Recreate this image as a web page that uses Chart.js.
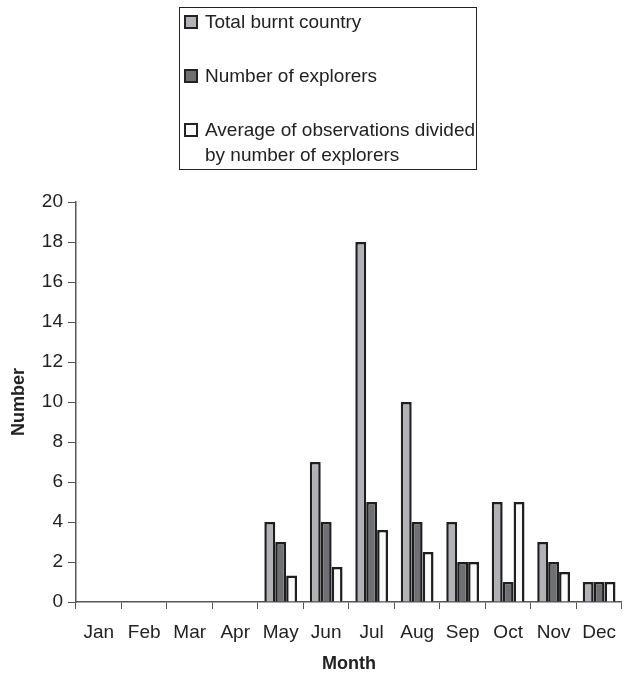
<!DOCTYPE html>
<html>
<head>
<meta charset="utf-8">
<script src="https://cdn.jsdelivr.net/npm/chart.js@4/dist/chart.umd.min.js"></script>
<style>
  html, body { margin: 0; padding: 0; background: #fff; overflow: hidden; }
  #wrap { position: relative; width: 628px; height: 677px; }
  #chart { position: absolute; left: 0; top: 0; }
  #legend {
    position: absolute; left: 179px; top: 7px; width: 298px; height: 163px;
    border: 1px solid #222; box-sizing: border-box;
    font-family: "Liberation Sans", Arial, sans-serif; font-size: 19px; color: #222;
  }
  .item { position: absolute; left: 4px; line-height: 25px; }
  .sw { position: absolute; left: 0; top: 6px; width: 10px; height: 10px; border: 2px solid #222; }
  .txt { position: absolute; left: 21px; white-space: nowrap; }
</style>
</head>
<body>
<div id="wrap">
  <canvas id="chart" width="628" height="677"></canvas>
  <div id="legend"></div>
</div>
<script>
// Monthly observations
const months = ['Jan','Feb','Mar','Apr','May','Jun','Jul','Aug','Sep','Oct','Nov','Dec'];
const totalBurnt = [0, 0, 0, 0, 4, 7, 18, 10, 4, 5, 3, 1];
const explorers  = [0, 0, 0, 0, 3, 4, 5, 4, 2, 1, 2, 1];
const avgPerExplorer = [0, 0, 0, 0, 1.33, 1.75, 3.6, 2.5, 2, 5, 1.5, 1];
const yTicks = [0, 2, 4, 6, 8, 10, 12, 14, 16, 18, 20];

const seriesNames = [
  'Total burnt country',
  'Number of explorers',
  ['Average of observations divided', 'by number of explorers']
];
const fills = ['#b1b2b6', '#6f7074', '#fafafa'];
const FONT = '"Liberation Sans", Arial, sans-serif';

// Boxed legend above the plot
const legend = document.getElementById('legend');
const rowTops = [1, 55, 109];
seriesNames.forEach((name, i) => {
  const item = document.createElement('div');
  item.className = 'item';
  item.style.top = rowTops[i] + 'px';
  const sw = document.createElement('div');
  sw.className = 'sw';
  sw.style.background = fills[i];
  const txt = document.createElement('div');
  txt.className = 'txt';
  txt.innerHTML = (Array.isArray(name) ? name : [name]).join('<br>');
  item.appendChild(sw);
  item.appendChild(txt);
  legend.appendChild(item);
});

const data = [totalBurnt, explorers, avgPerExplorer];

new Chart(document.getElementById('chart'), {
  type: 'bar',
  data: {
    labels: months,
    datasets: data.map((vals, i) => ({
      label: Array.isArray(seriesNames[i]) ? seriesNames[i].join(' ') : seriesNames[i],
      data: vals,
      backgroundColor: fills[i],
      borderColor: '#1e1e1e',
      borderWidth: 2.5,
      borderSkipped: 'bottom',
      categoryPercentage: 0.72,
      barPercentage: 1.0
    }))
  },
  options: {
    responsive: false,
    animation: false,
    layout: { padding: { top: 202, left: 0, right: 0, bottom: 0 } },
    plugins: { legend: { display: false }, tooltip: { enabled: false } },
    scales: {
      x: {
        offset: true,
        grid: { display: true, drawOnChartArea: false, offset: true, tickLength: 7, color: '#555', lineWidth: 1 },
        border: { color: '#555', width: 1.5 },
        ticks: { color: '#222', font: { family: FONT, size: 19 }, padding: 12, maxRotation: 0, autoSkip: false },
        title: { display: true, text: 'Month', color: '#222', font: { family: FONT, size: 18, weight: 'bold' }, padding: { top: 4, bottom: 2 } },
        afterFit: (s) => { s.height = 75; }
      },
      y: {
        min: 0, max: 20,
        afterBuildTicks: (s) => { s.ticks = yTicks.map(v => ({ value: v })); },
        grid: { display: true, drawOnChartArea: false, tickLength: 8, color: '#555', lineWidth: 1 },
        border: { color: '#555', width: 1.5 },
        ticks: { color: '#222', font: { family: FONT, size: 19 }, padding: 5 },
        title: { display: true, text: 'Number', color: '#222', font: { family: FONT, size: 18, weight: 'bold' }, padding: { top: 8, bottom: 0 } },
        afterFit: (s) => { s.width = 76; }
      }
    }
  }
});
</script>
</body>
</html>
